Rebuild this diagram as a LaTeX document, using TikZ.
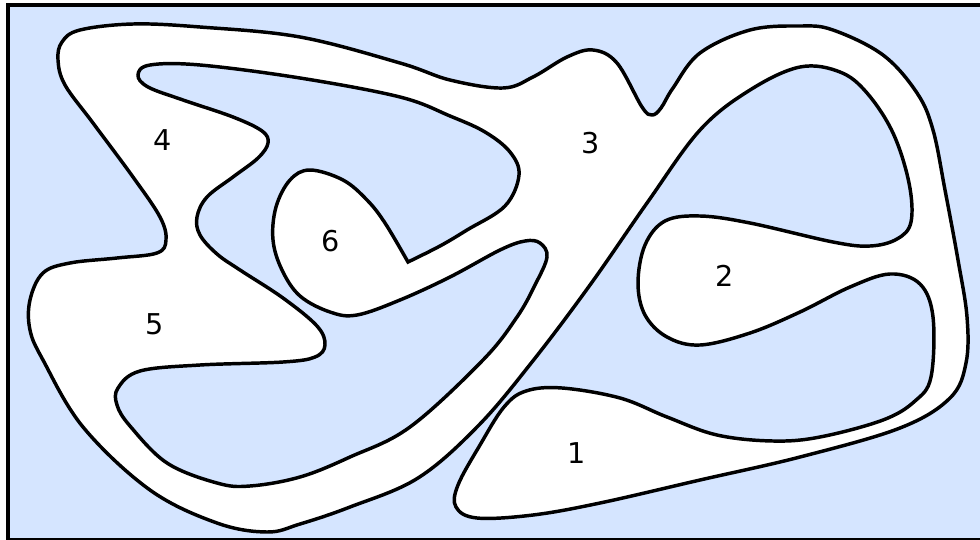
\documentclass[tikz,border=0pt]{standalone}
\usepackage{fontspec}
\setmainfont{DejaVu Sans}
\definecolor{mpink}{HTML}{000000}
\definecolor{mpsea}{HTML}{D5E5FF}
\tikzset{
  mp frame/.style={draw=mpink, line width=3pt, fill=mpsea},
  mp land/.style={draw=mpink, line width=2.6pt, fill=white, line join=round},
  mp lake/.style={draw=mpink, line width=2.6pt, fill=mpsea, line join=miter},
  mp label/.style={font=\fontsize{21.5}{26}\selectfont, text=mpink, inner sep=0pt}
}

\begin{document}
\begin{tikzpicture}[x=0.75pt, y=-0.75pt]
  \useasboundingbox (0,0) rectangle (980,539);
  \clip (0,0) rectangle (980,539);
  \draw[mp frame] (8,5) rectangle (1010,540);
  % one spiralling outline for all white land
  \draw[mp land] plot[smooth cycle, tension=0.6] coordinates {
    (267,532) (300,524) (350,507) (418,478) (478,426) (532,362) (590,285)
    (647,203) (700,130) (750,90) (800,67) (840,72) (867,93) (893,133)
    (909,183) (911,222) (897,239) (870,246) (833,242) (750,223) (700,216)
    (665,221) (645,245) (638,283) (645,315) (667,337) (700,345) (750,333)
    (800,312) (850,287) (890,274) (920,284) (933,317) (931,377) (915,401)
    (883,420) (820,437) (773,441) (717,435) (667,417) (620,398) (562,388)
    (526,391) (504,407) (480,445) (458,485) (456,507) (477,518) (533,515)
    (600,503) (700,480) (800,457) (900,428) (950,398) (966,363) (967,317)
    (958,260) (945,190) (933,130) (917,93) (883,55) (833,30) (800,26)
    (750,30) (700,53) (673,88) (661,108) (652,115) (642,107) (617,63)
    (593,50) (567,57) (533,77) (503,88) (450,80) (400,63) (300,37)
    (200,27) (133,24) (80,30) (62,42) (58,60) (65,85) (93,123) (133,177)
    (160,217) (166,240) (157,253) (117,258) (70,263) (43,273) (30,300)
    (30,330) (43,360) (83,427) (150,490) (217,523)};
  % blue pocket round region 6
  \draw[mp lake] plot[smooth, tension=0.6] coordinates {
    (408,262) (440,246) (467,230) (505,206) (519,175) (510,152)
    (485,132) (450,116) (400,97) (300,78) (200,65) (150,65) (138,75)
    (148,87) (183,100) (233,117) (262,131) (268,143) (258,158) (233,177)
    (207,197) (197,217) (200,235) (217,254) (240,270) (283,298) (317,326)
    (325,345) (315,357) (283,362) (200,365) (140,371) (118,388) (117,405)
    (130,426) (167,463) (217,483) (250,486) (300,477) (350,457) (410,427)
    (483,360) (517,317) (535,285) (547,257) (540,243) (525,241) (500,250)
    (450,277) (400,300) (357,315) (330,312) (300,296) (282,270) (273,240)
    (276,207) (290,180) (310,170) (343,180) (367,200) (385,223) (408,262)}
    -- cycle;
  \node[mp label] (lbl one) at (577,453) {1};
  \node[mp label] (lbl two) at (725,276) {2};
  \node[mp label] (lbl three) at (591,143) {3};
  \node[mp label] (lbl four) at (163,140) {4};
  \node[mp label] (lbl five) at (155,324) {5};
  \node[mp label] (lbl six) at (331,241) {6};
\end{tikzpicture}
\end{document}
